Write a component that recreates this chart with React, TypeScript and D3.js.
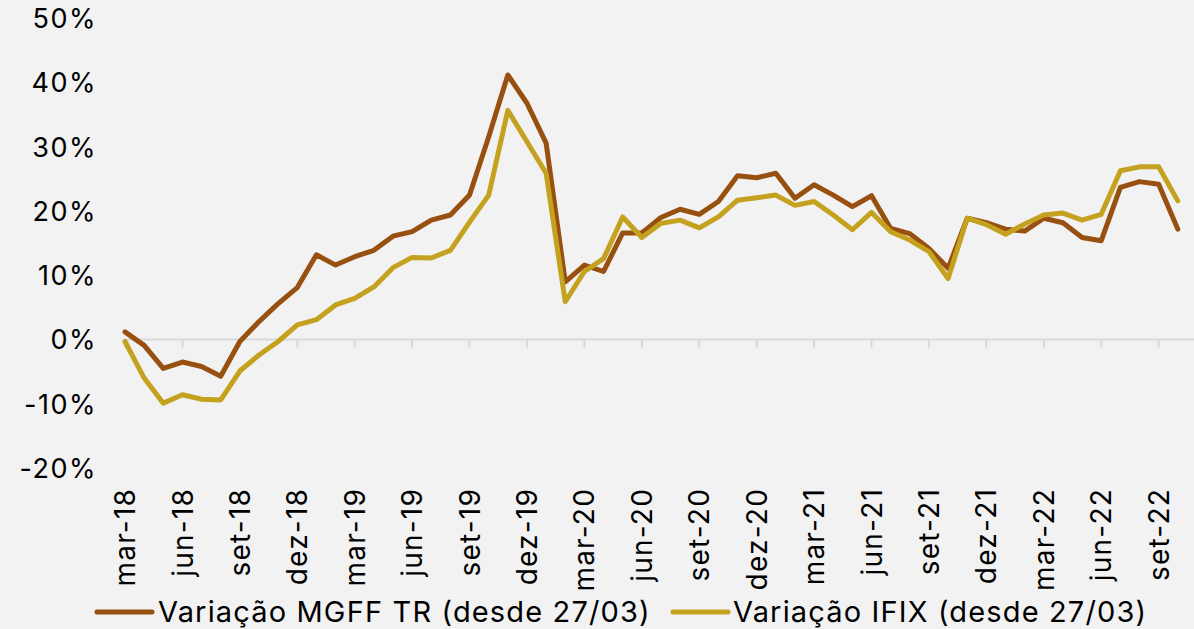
import React from "react";
import * as d3 from "d3";

const months: string[] = [
  "mar-18","abr-18","mai-18","jun-18","jul-18","ago-18","set-18","out-18","nov-18","dez-18",
  "jan-19","fev-19","mar-19","abr-19","mai-19","jun-19","jul-19","ago-19","set-19","out-19","nov-19","dez-19",
  "jan-20","fev-20","mar-20","abr-20","mai-20","jun-20","jul-20","ago-20","set-20","out-20","nov-20","dez-20",
  "jan-21","fev-21","mar-21","abr-21","mai-21","jun-21","jul-21","ago-21","set-21","out-21","nov-21","dez-21",
  "jan-22","fev-22","mar-22","abr-22","mai-22","jun-22","jul-22","ago-22","set-22","out-22",
];

const mgff: number[] = [
  1.2, -0.9, -4.5, -3.5, -4.2, -5.7, -0.3, 2.8, 5.6, 8.1,
  13.2, 11.6, 12.9, 13.9, 16.1, 16.8, 18.6, 19.4, 22.5, 31.6, 41.2, 36.8,
  30.6, 9.0, 11.6, 10.6, 16.6, 16.6, 19.0, 20.3, 19.5, 21.5, 25.5, 25.2,
  25.9, 22.0, 24.1, 22.5, 20.7, 22.4, 17.3, 16.5, 14.2, 11.1, 18.9, 18.2,
  17.2, 16.9, 18.9, 18.2, 15.9, 15.4, 23.7, 24.6, 24.2, 17.2,
];

const ifix: number[] = [
  -0.3, -6.0, -9.9, -8.6, -9.3, -9.4, -4.9, -2.4, -0.3, 2.3,
  3.1, 5.4, 6.4, 8.2, 11.2, 12.8, 12.7, 13.9, 18.3, 22.5, 35.7, 30.8,
  25.9, 5.9, 10.6, 12.6, 19.1, 15.9, 18.1, 18.6, 17.4, 19.1, 21.7, 22.1,
  22.5, 20.9, 21.5, 19.4, 17.1, 19.8, 16.8, 15.5, 13.7, 9.5, 18.9, 17.9,
  16.4, 18.0, 19.4, 19.7, 18.6, 19.5, 26.3, 26.9, 26.9, 21.6,
];

const yTicks: number[] = [-20, -10, 0, 10, 20, 30, 40, 50];
const seriesNames: string[] = [
  "Variação MGFF TR (desde 27/03)",
  "Variação IFIX (desde 27/03)",
];
const colors: string[] = ["#97500f", "#c4a21f"];

const W = 1194;
const H = 629;
const FONT = "Inter, Lato, 'DejaVu Sans', sans-serif";

export default function App() {
  const x = d3.scalePoint<string>().domain(months).range([125, 1177.8]);
  const y = d3.scaleLinear().domain([-20, 50]).range([468, 18.5]);
  const line = d3
    .line<number>()
    .x((_, i) => x(months[i]) as number)
    .y((d) => y(d));

  const tickMonths = months.filter((_, i) => i % 3 === 0);
  const y0 = y(0);

  return (
    <div>
      <style>{`body{margin:0;background:#f2f2f2}`}</style>
      <svg width={W} height={H} style={{ display: "block", background: "#f2f2f2" }}>
        <rect x={0} y={0} width={W} height={H} fill="#f2f2f2" />
        {/* y tick labels */}
        {yTicks.map((t) => (
          <text
            key={t}
            x={97}
            y={y(t)}
            dy="0.36em"
            textAnchor="end"
            fontFamily={FONT}
            fontSize={27}
            letterSpacing={1.5}
            fill="#000"
          >
            {t}%
          </text>
        ))}
        {/* zero axis */}
        <line x1={123} x2={W} y1={y0} y2={y0} stroke="#d9d9d9" strokeWidth={2} />
        {tickMonths.map((m) => (
          <line
            key={m}
            x1={x(m)}
            x2={x(m)}
            y1={y0}
            y2={y0 + 8}
            stroke="#d9d9d9"
            strokeWidth={2}
          />
        ))}
        {/* x labels */}
        {tickMonths.map((m) => (
          <text
            key={"l" + m}
            transform={`translate(${x(m)},488) rotate(-90)`}
            dy="0.36em"
            textAnchor="end"
            fontFamily={FONT}
            fontSize={28}
            letterSpacing={1.2}
            fill="#000"
          >
            {m}
          </text>
        ))}
        {/* series */}
        {[mgff, ifix].map((s, k) => (
          <path
            key={k}
            d={line(s) || ""}
            fill="none"
            stroke={colors[k]}
            strokeWidth={5}
            strokeLinejoin="round"
            strokeLinecap="round"
          />
        ))}
        {/* legend */}
        <line x1={97} x2={152} y1={612} y2={612} stroke={colors[0]} strokeWidth={5} strokeLinecap="round" />
        <text x={158} y={622} fontFamily={FONT} fontSize={29} letterSpacing={1.15} fill="#000">
          {seriesNames[0]}
        </text>
        <line x1={673} x2={728} y1={612} y2={612} stroke={colors[1]} strokeWidth={5} strokeLinecap="round" />
        <text x={733} y={622} fontFamily={FONT} fontSize={29} letterSpacing={1.15} fill="#000">
          {seriesNames[1]}
        </text>
      </svg>
    </div>
  );
}
